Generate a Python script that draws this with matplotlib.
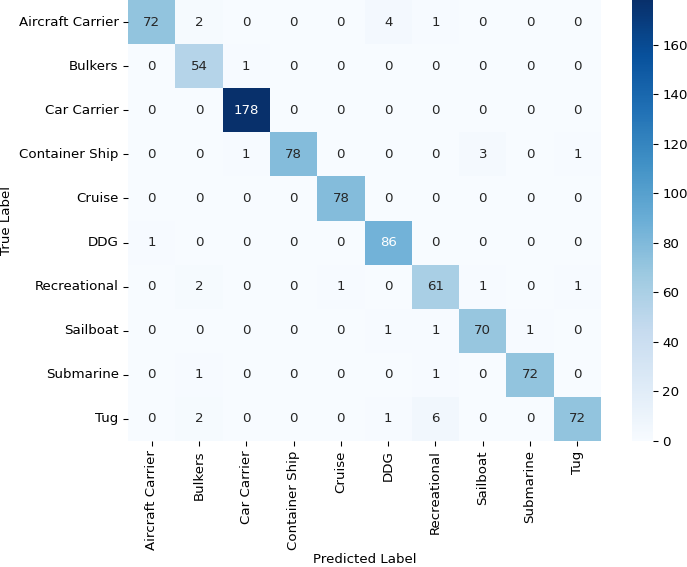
import numpy as np
import pandas as pd
import matplotlib
matplotlib.use('Agg')
import matplotlib.pyplot as plt
import seaborn as sns

classes = ['Aircraft Carrier', 'Bulkers', 'Car Carrier', 'Container Ship', 'Cruise',
           'DDG', 'Recreational', 'Sailboat', 'Submarine', 'Tug']

# rows = true label, columns = predicted label
row_aircraft = [72, 2, 0, 0, 0, 4, 1, 0, 0, 0]
row_bulkers = [0, 54, 1, 0, 0, 0, 0, 0, 0, 0]
row_car = [0, 0, 178, 0, 0, 0, 0, 0, 0, 0]
row_container = [0, 0, 1, 78, 0, 0, 0, 3, 0, 1]
row_cruise = [0, 0, 0, 0, 78, 0, 0, 0, 0, 0]
row_ddg = [1, 0, 0, 0, 0, 86, 0, 0, 0, 0]
row_recreational = [0, 2, 0, 0, 1, 0, 61, 1, 0, 1]
row_sailboat = [0, 0, 0, 0, 0, 1, 1, 70, 1, 0]
row_submarine = [0, 1, 0, 0, 0, 0, 1, 0, 72, 0]
row_tug = [0, 2, 0, 0, 0, 1, 6, 0, 0, 72]

cm = pd.DataFrame([row_aircraft, row_bulkers, row_car, row_container, row_cruise,
                   row_ddg, row_recreational, row_sailboat, row_submarine, row_tug],
                  index=classes, columns=classes)

W, H, DPI = 687, 567, 96
fig = plt.figure(figsize=(W / DPI, H / DPI), dpi=DPI)
ax = fig.add_axes([128/W, 1 - 441/H, (601 - 128)/W, 441/H])
cax = fig.add_axes([632/W, 1 - 441/H, 21/W, 441/H])

sns.heatmap(cm, annot=True, fmt='d', cmap='Blues', ax=ax, cbar_ax=cax)
ax.set_xlabel('Predicted Label', labelpad=2)
ax.set_ylabel('True Label')

plt.savefig('out.png', dpi=DPI)
